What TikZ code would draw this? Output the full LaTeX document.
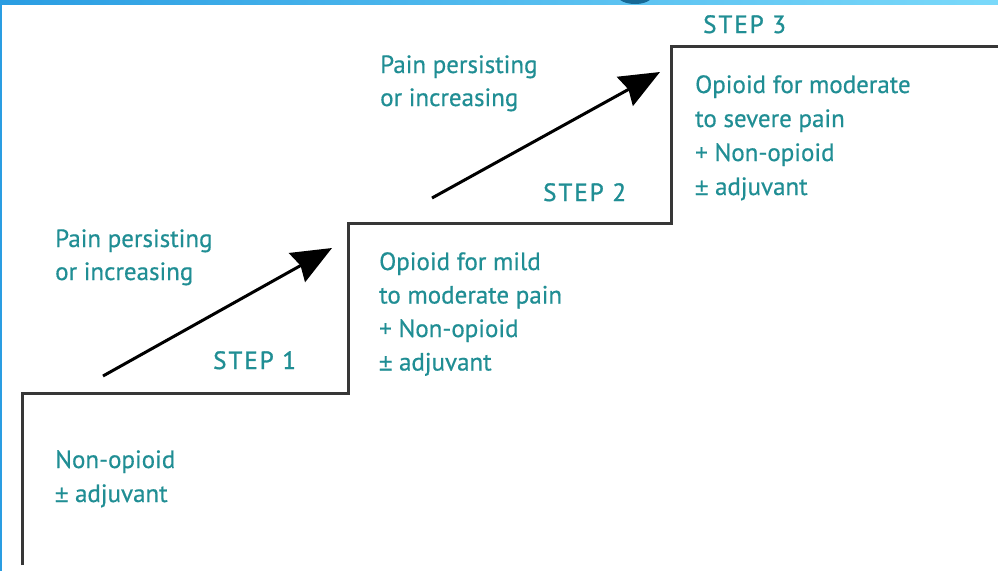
\documentclass[tikz,border=0pt]{standalone}
\usepackage{fontspec}
\setmainfont{PT Sans}
\newfontfamily\stepfont[LetterSpace=8,FakeBold=1.2]{PT Sans}
\newfontfamily\bodyfont[FakeBold=0.5]{PT Sans}
\newfontfamily\pmfont[FakeBold=0.5]{Liberation Sans}
\usetikzlibrary{arrows.meta}
\definecolor{tealtext}{RGB}{32,142,148}
\definecolor{stairgray}{RGB}{55,55,55}
\definecolor{bandleft}{RGB}{42,157,226}
\definecolor{bandright}{RGB}{122,217,250}
\definecolor{bumpblue}{RGB}{22,105,150}
\tikzset{
  lbl/.style={text=tealtext, inner sep=0pt, anchor=base west, font=\bodyfont\fontsize{25}{33.5}\selectfont},
  steplbl/.style={lbl, font=\stepfont\fontsize{25}{33.5}\selectfont},
  stair/.style={draw=stairgray, line width=3pt, line join=miter},
  uparrow/.style={draw=black, line width=3pt, -{Stealth[length=40pt,width=33pt,inset=4pt]}}
}
\newcommand{\pmsign}{{\pmfont\fontsize{24}{33.5}\selectfont\textpm}}
\begin{document}
\begin{tikzpicture}[x=1pt,y=-1pt]
\useasboundingbox (0,0) rectangle (998,571);
\fill[white] (0,0) rectangle (998,571);
% frame remnants
\shade[left color=bandleft, right color=bandright] (0,0) rectangle (998,4);
\fill[bandleft] (0,0) rectangle (2,571);
\begin{scope}
\clip (0,0) rectangle (998,4);
\fill[bumpblue] (635,-4) ellipse (17pt and 8pt);
\end{scope}
% staircase
\coordinate (s0) at (22,565);
\coordinate (s1) at (22,393);
\coordinate (s2) at (348,393);
\coordinate (s3) at (348,223);
\coordinate (s4) at (671,223);
\coordinate (s5) at (671,46);
\coordinate (s6) at (999,46);
\draw[stair] (s0) -- (s1) -- (s2) -- (s3) -- (s4) -- (s5) -- (s6);
% arrows
\coordinate (a1s) at (103,376);
\coordinate (a1e) at (332,248);
\coordinate (a2s) at (432,198);
\coordinate (a2e) at (660,72);
\draw[uparrow] (a1s) -- (a1e);
\draw[uparrow] (a2s) -- (a2e);
% labels step 1
\node[lbl] (p1a) at (55,247) {Pain persisting};
\node[lbl] (p1b) at (55,280) {or increasing};
\node[steplbl] (st1) at (213,369) {STEP 1};
\node[lbl] (n1a) at (55,468) {Non-opioid};
\node[lbl] (n1b) at (55,502) {\pmsign\ adjuvant};
% step 2
\node[lbl] (o2a) at (379,270) {Opioid for mild};
\node[lbl] (o2b) at (379,303.5) {to moderate pain};
\node[lbl] (o2c) at (379,337) {+ Non-opioid};
\node[lbl] (o2d) at (379,370.5) {\pmsign\ adjuvant};
\node[lbl] (p2a) at (380,73) {Pain persisting};
\node[lbl] (p2b) at (380,106) {or increasing};
\node[steplbl] (st2) at (543,201) {STEP 2};
% step 3
\node[steplbl] (st3) at (703,33) {STEP 3};
\node[lbl] (o3a) at (695,93) {Opioid for moderate};
\node[lbl] (o3b) at (695,127) {to severe pain};
\node[lbl] (o3c) at (695,161) {+ Non-opioid};
\node[lbl] (o3d) at (695,195) {\pmsign\ adjuvant};
\end{tikzpicture}
\end{document}
